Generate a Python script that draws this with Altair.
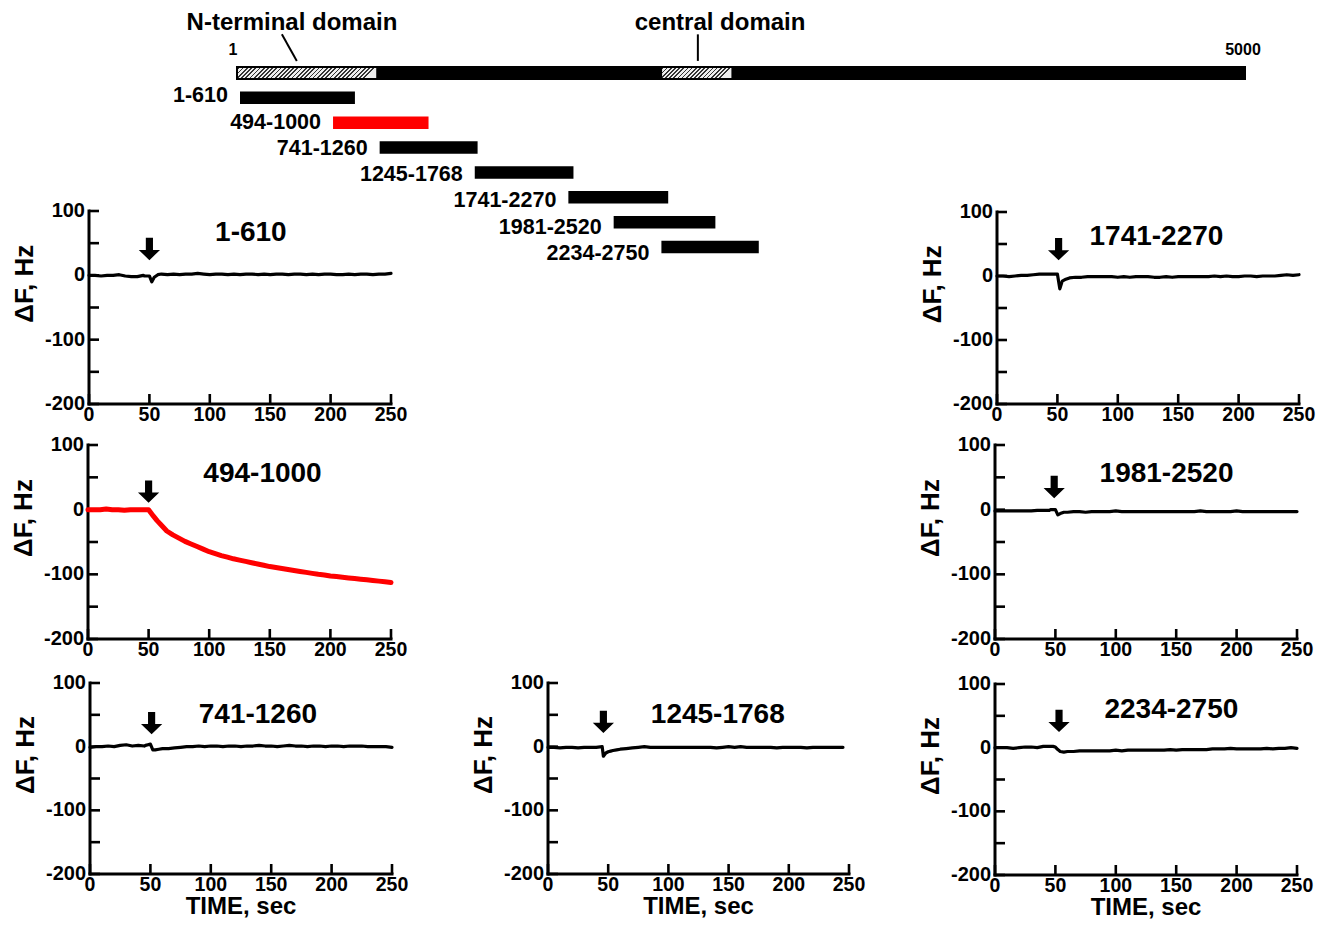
import altair as alt
import pandas as pd

FONT = "Liberation Sans"

# ---------------- data: protein map ----------------
PROTEIN_FIRST = 1
PROTEIN_LAST = 5000
DOMAIN_NAMES = ["N-terminal domain", "central domain"]
DOMAIN_START = [1, 2100]
DOMAIN_END = [700, 2458]
DOMAIN_LABEL_AT = [278, 2397]        # residue under the middle of each domain label
DOMAIN_LEADER_TOP = [228, 2287]      # residue where the leader line leaves the label
DOMAIN_LEADER_BAR = [302, 2287]      # residue where the leader line meets the bar

FRAGMENTS = ["1-610", "494-1000", "741-1260", "1245-1768", "1741-2270", "1981-2520", "2234-2750"]
FRAG_START = [1, 494, 741, 1245, 1741, 1981, 2234]
FRAG_END = [610, 1000, 1260, 1768, 2270, 2520, 2750]
ACTIVE_FRAGMENT = "494-1000"

# ---------------- data: QCM traces (dF, Hz vs time, s) ----------------
TIME = [0, 5, 10, 15, 20, 25, 30, 35, 40, 45,
        46, 48, 50, 52, 54, 57,
        60, 65, 70, 75, 80, 85, 90, 95, 100, 105, 110, 115, 120, 125, 130, 135, 140, 145, 150,
        155, 160, 165, 170, 175, 180, 185, 190, 195, 200, 205, 210, 215, 220, 225, 230, 235,
        240, 245, 250]

DF_1_610 = [0, 0, -1, 0, 0, 1, -1, -2, -2, 0,
            -1, -1, -1, -10, -3, 1,
            2, 1, 2, 1, 2, 2, 3, 2, 1, 2, 2, 1, 2, 1, 2, 2, 1, 2, 1, 2, 2, 1, 2,
            2, 1, 2, 1, 2, 2, 1, 1, 2, 1, 2, 2, 1, 2, 2, 3]
DF_494_1000 = [0, 0, 0, 1, 0, 0, -1, 0, 0, 0,
               0, 0, 0, -5, -10, -17,
               -23, -33, -39, -44, -49, -53, -57, -61, -65, -68, -71, -73.5, -76, -78, -80,
               -82, -84, -86, -88, -89.5, -91, -92.5, -94, -95.5, -97, -98.5, -100, -101,
               -102.5, -103.5, -104.5, -105.5, -106.5, -107.5, -108.5, -109.5, -110.5, -111.5, -112.5]
DF_741_1260 = [-1, 0, 0, 1, 0, 2, 3, 1, 2, 1,
               2, 3, 4, -5, -5, -4,
               -3, -3, -2, -1, 0, 0, 1, 0, 1, 1, 0, 1, 1, 0, 1, 1, 2, 1, 1, 0, 1, 2, 1,
               1, 0, 1, 1, 0, 1, 1, 0, 1, 1, 1, 0, 0, 0, 0, -1]
DF_1245_1768 = [-1, -1, -2, -1, -1, -2, -1, -1, -1, 0,
                -15, -10, -8, -7, -6, -5,
                -4, -3, -2, -1, 0, -1, -1, -1, -1, -1, -1, -1, -1, -1, -1, -1, -2, -1, 0, -1,
                0, -1, -1, -1, -1, -1, -2, -1, -1, -1, -1, -2, -1, -1, -1, -1, -1, -1, None]
DF_1741_2270 = [0, 0, -1, 0, 1, 1, 2, 3, 3, 3,
                3, 3, 3, -20, -8, -5,
                -3, -2, -2, -1, -1, -1, -1, -1, -2, -1, -2, -1, -1, -1, -2, -2, -1, -2, -1,
                -1, -1, -1, -1, -1, 0, -1, 0, -1, -1, 0, 0, -1, 0, 0, 0, 1, 2, 1, 2]
DF_1981_2520 = [-2, -2, -2, -2, -2, -2, -2, -1, -1, -1,
                0, 0, 0, -8, -6, -4,
                -4, -3, -3, -4, -3, -3, -3, -3, -2, -3, -3, -3, -3, -3, -3, -3, -3, -3, -3,
                -3, -3, -3, -2, -3, -3, -3, -3, -3, -2, -3, -3, -3, -3, -3, -3, -3, -3, -3, -3]
DF_2234_2750 = [0, 0, 0, -1, 0, 1, 1, 0, 2, 2,
                2, 2, 1, -3, -6, -7,
                -6, -6, -5, -5, -5, -5, -5, -5, -4, -5, -4, -4, -4, -4, -4, -4, -4, -3, -4,
                -3, -3, -3, -3, -3, -2, -2, -2, -1, -2, -2, -2, -2, -2, -1, -2, -1, -1, 0, -1]

INJECTION_TIME = [50, 50, 51, 46, 51, 49, 53]   # arrow marks

Y_TICKS = [-200, -150, -100, -50, 0, 50, 100]
Y_LABELS = [-200, -100, 0, 100]
X_TICKS = [0, 50, 100, 150, 200, 250]
X_LABELS = [0, 50, 100, 150, 200, 250]

# ---------------- layout (page pixels) ----------------
PAGE = 8
W, H = 1315, 911
# x at t=0, x at t=250, y at +100 Hz, y at -200 Hz
PANELS = [
    ("1-610", DF_1_610, (89, 391, 211, 404), (134, 66), 41, False),
    ("494-1000", DF_494_1000, (88, 391, 445, 639), (144, 55), 28, False),
    ("741-1260", DF_741_1260, (90, 392, 683, 874), (139, 50), 37, True),
    ("1245-1768", DF_1245_1768, (548, 849, 683, 874), (141, 50), 39, True),
    ("1741-2270", DF_1741_2270, (997, 1299, 212, 404), (132, 61), 42, False),
    ("1981-2520", DF_1981_2520, (995, 1297, 445, 639), (142, 55), 35, False),
    ("2234-2750", DF_2234_2750, (995, 1297, 684, 875), (146, 59), 42, True),
]
RED = "#ff0000"
ARROW = "M-0.32,-1 L0.32,-1 L0.32,0.09 L0.95,0.09 L0,1 L-0.95,0.09 L-0.32,0.09 Z"

MAIN_RANGE = [236 - PAGE, 1246 - PAGE]
FRAG_RANGE = [240 - PAGE, 1183.4 - PAGE]
ROW_RANGE = [68 - PAGE, 252 - PAGE]   # rows 0..7


def txt(**kw):
    base = dict(font=FONT, fontWeight="bold", color="black")
    base.update(kw)
    return base


def panel_layers(idx, name, series, geo, title_pos, arrow_f, bottom):
    x0, x1, yt, yb = [v - PAGE for v in geo]
    xs = alt.Scale(domain=[0, 250], range=[x0, x1], nice=False, zero=False)
    ys = alt.Scale(domain=[-200, 100], range=[yb, yt], nice=False, zero=False)

    def X(f):
        return alt.X(f"{f}:Q", scale=xs, axis=None)

    def Y(f):
        return alt.Y(f"{f}:Q", scale=ys, axis=None)

    active = name == ACTIVE_FRAGMENT
    out = []
    frame = pd.DataFrame({"t": [0, 0], "t2": [0, 250], "F": [-200, -200], "F2": [100, -200]})
    out.append(alt.Chart(frame).mark_rule(color="black", strokeWidth=3, strokeCap="square")
               .encode(x=X("t"), x2="t2", y=Y("F"), y2="F2"))
    out.append(alt.Chart(pd.DataFrame({"t": 0, "F": Y_TICKS}))
               .mark_rule(color="black", strokeWidth=2.6, x2Offset=10)
               .encode(x=X("t"), x2="t", y=Y("F")))
    out.append(alt.Chart(pd.DataFrame({"t": X_TICKS, "F": -200}))
               .mark_rule(color="black", strokeWidth=2.6, y2Offset=-10)
               .encode(x=X("t"), y=Y("F"), y2="F"))
    out.append(alt.Chart(pd.DataFrame({"t": 0, "F": Y_LABELS, "lab": [str(v) for v in Y_LABELS]}))
               .mark_text(**txt(align="right", baseline="middle", dx=-4, fontSize=20))
               .encode(x=X("t"), y=Y("F"), text="lab:N"))
    out.append(alt.Chart(pd.DataFrame({"t": X_LABELS, "F": -200, "lab": [str(v) for v in X_LABELS]}))
               .mark_text(**txt(align="center", baseline="top", dy=2, fontSize=19.5))
               .encode(x=X("t"), y=Y("F"), text="lab:N"))
    line = pd.DataFrame({"t": TIME, "F": series})
    out.append(alt.Chart(line).mark_line(color=RED if active else "black",
                                         strokeWidth=5 if active else 3.2,
                                         strokeJoin="round", strokeCap="round")
               .encode(x=X("t"), y=Y("F")))
    out.append(alt.Chart(pd.DataFrame({"t": [title_pos[0]], "F": [title_pos[1]], "lab": [name]}))
               .mark_text(**txt(align="center", baseline="middle", fontSize=28))
               .encode(x=X("t"), y=Y("F"), text="lab:N"))
    out.append(alt.Chart(pd.DataFrame({"t": [INJECTION_TIME[idx]], "F": [arrow_f]}))
               .mark_point(shape=ARROW, filled=True, size=500, color="black", opacity=1, strokeWidth=0)
               .encode(x=X("t"), y=Y("F")))
    out.append(alt.Chart(pd.DataFrame({"t": [0], "F": [-13], "lab": ["ΔF, Hz"]}))
               .mark_text(**txt(align="center", baseline="middle", fontSize=26, angle=270, dy=-64))
               .encode(x=X("t"), y=Y("F"), text="lab:N"))
    if bottom:
        out.append(alt.Chart(pd.DataFrame({"t": [125], "F": [-200], "lab": ["TIME, sec"]}))
                   .mark_text(**txt(align="center", baseline="middle", fontSize=24, dy=33))
                   .encode(x=X("t"), y=Y("F"), text="lab:N"))
    return out


def hatch(w, h, period=4.2, frac=0.42):
    n = max(1, round(w / period))
    stops = []
    for k in range(n):
        a, b, c = k / n, (k + frac) / n, (k + 1) / n
        stops += [alt.GradientStop(offset=a, color="#333333"), alt.GradientStop(offset=b, color="#333333"),
                  alt.GradientStop(offset=b, color="#eeeeee"), alt.GradientStop(offset=c, color="#eeeeee")]
    return alt.LinearGradient(gradient="linear", stops=stops, x1=0, y1=0, x2=1, y2=h / w)


def diagram_layers():
    ms = alt.Scale(domain=[PROTEIN_FIRST, PROTEIN_LAST], range=MAIN_RANGE, nice=False, zero=False)
    fs = alt.Scale(domain=[PROTEIN_FIRST, PROTEIN_LAST], range=FRAG_RANGE, nice=False, zero=False)
    rs = alt.Scale(domain=[0, 7], range=ROW_RANGE, nice=False, zero=False)

    def XM(f):
        return alt.X(f"{f}:Q", scale=ms, axis=None)

    def XF(f):
        return alt.X(f"{f}:Q", scale=fs, axis=None)

    def R(f):
        return alt.Y(f"{f}:Q", scale=rs, axis=None)

    out = []
    out.append(alt.Chart(pd.DataFrame({"s": [PROTEIN_FIRST], "e": [PROTEIN_LAST], "row": [0]}))
               .mark_bar(color="black", size=14)
               .encode(x=XM("s"), x2="e", y=R("row")))
    px = (MAIN_RANGE[1] - MAIN_RANGE[0]) / (PROTEIN_LAST - PROTEIN_FIRST)
    for s, e in zip(DOMAIN_START, DOMAIN_END):
        w = (e - s) * px - 3
        out.append(alt.Chart(pd.DataFrame({"s": [s], "e": [e], "row": [0]}))
                   .mark_bar(fill=hatch(w, 10), size=10, xOffset=2, x2Offset=-1, strokeWidth=0)
                   .encode(x=XM("s"), x2="e", y=R("row")))
    dom = pd.DataFrame({"name": DOMAIN_NAMES, "at": DOMAIN_LABEL_AT, "top": DOMAIN_LEADER_TOP,
                        "bar": DOMAIN_LEADER_BAR, "row": -1.43, "r1": -1.28, "r2": -0.27})
    out.append(alt.Chart(dom).mark_text(**txt(align="center", baseline="alphabetic", fontSize=24))
               .encode(x=XM("at"), y=R("row"), text="name:N"))
    out.append(alt.Chart(dom).mark_rule(color="black", strokeWidth=2)
               .encode(x=XM("top"), x2="bar", y=R("r1"), y2="r2"))
    ends = pd.DataFrame({"p": [PROTEIN_FIRST, PROTEIN_LAST], "lab": [str(PROTEIN_FIRST), str(PROTEIN_LAST)],
                         "row": -0.67})
    out.append(alt.Chart(ends).mark_text(**txt(align="center", baseline="middle", fontSize=16, dx=-3))
               .encode(x=XM("p"), y=R("row"), text="lab:N"))
    frag = pd.DataFrame({"name": FRAGMENTS, "s": FRAG_START, "e": FRAG_END,
                         "row": list(range(1, len(FRAGMENTS) + 1))})
    out.append(alt.Chart(frag).mark_bar(size=12.5)
               .encode(x=XF("s"), x2="e", y=R("row"),
                       color=alt.when(alt.datum.name == ACTIVE_FRAGMENT).then(alt.value(RED))
                       .otherwise(alt.value("black"))))
    out.append(alt.Chart(frag).mark_text(**txt(align="right", baseline="middle", dx=-12, dy=2, fontSize=21.5))
               .encode(x=XF("s"), y=R("row"), text="name:N"))
    return out


layers = diagram_layers()
for i, (name, series, geo, tpos, af, bottom) in enumerate(PANELS):
    layers += panel_layers(i, name, series, geo, tpos, af, bottom)

chart = (alt.layer(*layers)
         .resolve_scale(x="independent", y="independent")
         .properties(width=W, height=H, padding=0, autosize=alt.AutoSizeParams(type="none"))
         .configure_view(stroke=None))

chart.save("out.html", embed_options={"renderer": "svg", "actions": False})
